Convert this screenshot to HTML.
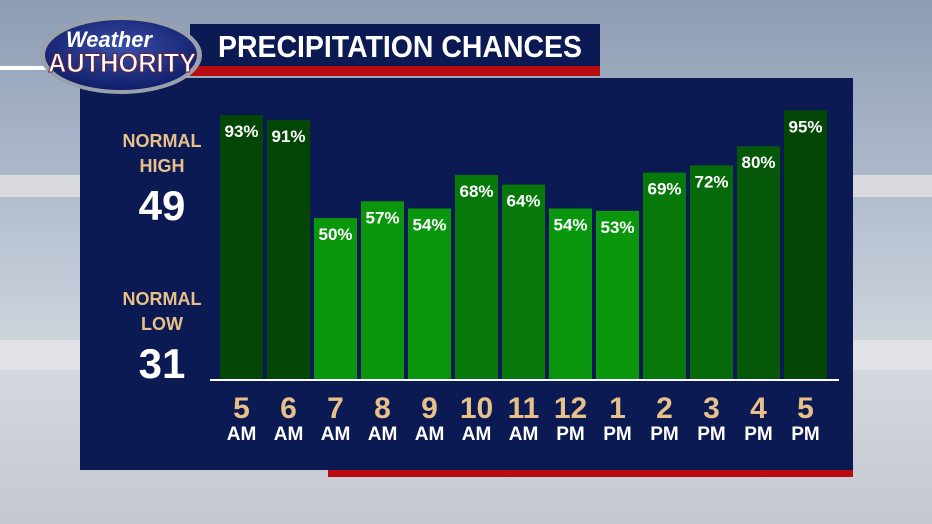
<!DOCTYPE html>
<html><head><meta charset="utf-8"><style>
html,body{margin:0;padding:0;width:932px;height:524px;overflow:hidden;background:#aab4c4}
svg{display:block}
text{font-family:"Liberation Sans Narrow","Liberation Sans",sans-serif;font-weight:bold}
</style></head><body>
<svg id="chart" width="932" height="524" viewBox="0 0 932 524" xmlns="http://www.w3.org/2000/svg">
<defs>
<linearGradient id="sky" x1="0" y1="0" x2="0" y2="1">
<stop offset="0" stop-color="#8d9db5"/><stop offset="0.45" stop-color="#b9c3d2"/><stop offset="0.7" stop-color="#d4d8de"/><stop offset="1" stop-color="#c4c8cf"/>
</linearGradient>
<radialGradient id="logoG" cx="0.5" cy="0.4" r="0.6"><stop offset="0" stop-color="#3a4fa8"/><stop offset="1" stop-color="#101e6a"/></radialGradient>
</defs>
<rect x="0" y="0" width="932" height="524" fill="url(#sky)"/>
<rect x="0" y="175" width="80" height="22" fill="#d8dade"/>
<rect x="853" y="175" width="79" height="22" fill="#d8dade"/>
<rect x="0" y="340" width="80" height="30" fill="#e0e2e6"/>
<rect x="853" y="340" width="79" height="30" fill="#e0e2e6"/>
<rect x="0" y="66" width="50" height="4" fill="#ffffff"/>
<rect x="80" y="78" width="773" height="392" fill="#0b1a52"/>
<rect x="328" y="470" width="525" height="7" fill="#b80c10"/>
<rect x="190" y="24" width="410" height="42" fill="#0b1a52"/>
<rect x="190" y="66" width="410" height="10" fill="#b80c10"/>
<text x="218" y="57" font-size="31" fill="#ffffff" textLength="364" lengthAdjust="spacingAndGlyphs">PRECIPITATION CHANCES</text>
<g>
<ellipse cx="121" cy="55" rx="81" ry="39" fill="#9aa0aa"/>
<ellipse cx="121" cy="55" rx="76" ry="35" fill="url(#logoG)"/>
<text x="66" y="47" font-size="22" fill="#ffffff" font-style="italic" font-weight="normal" textLength="86" lengthAdjust="spacingAndGlyphs">Weather</text>
<text x="48" y="72" font-size="27" fill="#ffffff" textLength="148" lengthAdjust="spacingAndGlyphs" stroke="#6a2030" stroke-width="1">AUTHORITY</text>
</g>
<g>
<text x="162" y="147" font-size="18" fill="#e8c08a" text-anchor="middle">NORMAL</text>
<text x="162" y="172" font-size="18" fill="#e8c08a" text-anchor="middle">HIGH</text>
<text x="162" y="220" font-size="42" fill="#ffffff" text-anchor="middle">49</text>
</g>
<g>
<text x="162" y="305" font-size="18" fill="#e8c08a" text-anchor="middle">NORMAL</text>
<text x="162" y="330" font-size="18" fill="#e8c08a" text-anchor="middle">LOW</text>
<text x="162" y="378" font-size="42" fill="#ffffff" text-anchor="middle">31</text>
</g>
<g id="bars"></g>
<rect x="210" y="379" width="629" height="2" fill="#ffffff"/>
<g id="labels"></g>
</svg>
<script>
const hours = ["5","6","7","8","9","10","11","12","1","2","3","4","5"];
const periods = ["AM","AM","AM","AM","AM","AM","AM","PM","PM","PM","PM","PM","PM"];
const chances = [93,91,50,57,54,68,64,54,53,69,72,80,95];

const NS = "http://www.w3.org/2000/svg";
const baseY = 380, x0 = 220, pitch = 47, bw = 43;
const vMin = -17.6, pxPer = 2.395;
function yScale(v){ return baseY - (v - vMin) * pxPer; }
function xScale(i){ return x0 + i * pitch; }
function color(v){
  if (v >= 88) return "#044606";
  if (v >= 78) return "#05570a";
  if (v >= 71) return "#066a0a";
  if (v >= 62) return "#07790b";
  return "#0a960d";
}
const bars = document.getElementById("bars");
const labels = document.getElementById("labels");
chances.forEach((v,i)=>{
  const y = yScale(v), x = xScale(i);
  const r = document.createElementNS(NS,"rect");
  r.setAttribute("x",x); r.setAttribute("y",y);
  r.setAttribute("width",bw); r.setAttribute("height",baseY-y);
  r.setAttribute("fill",color(v));
  
  
  bars.appendChild(r);
  const t = document.createElementNS(NS,"text");
  t.setAttribute("x",x+bw/2); t.setAttribute("y",y+22);
  t.setAttribute("text-anchor","middle"); t.setAttribute("font-size","17");
  t.setAttribute("fill","#ffffff");
  t.textContent = v + "%";
  
  
  bars.appendChild(t);
  const h = document.createElementNS(NS,"text");
  h.setAttribute("x",x+bw/2); h.setAttribute("y",418);
  h.setAttribute("text-anchor","middle"); h.setAttribute("font-size","30");
  h.setAttribute("fill","#e8c08a");
  h.textContent = hours[i];
  
  
  labels.appendChild(h);
  const p = document.createElementNS(NS,"text");
  p.setAttribute("x",x+bw/2); p.setAttribute("y",440);
  p.setAttribute("text-anchor","middle"); p.setAttribute("font-size","19");
  p.setAttribute("fill","#ffffff");
  p.textContent = periods[i];
  
  
  labels.appendChild(p);
});
</script>
</body></html>
